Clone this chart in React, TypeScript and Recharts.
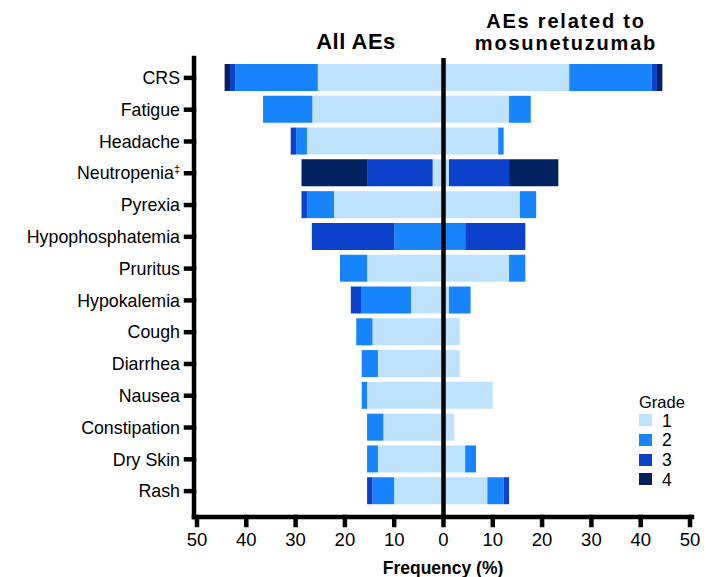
import React from "react";
import { Bar, BarChart, ReferenceLine, XAxis, YAxis } from "recharts";

const FONT = '"Liberation Sans", Arial, sans-serif';

const CATEGORIES = [
  "CRS",
  "Fatigue",
  "Headache",
  "Neutropenia‡",
  "Pyrexia",
  "Hypophosphatemia",
  "Pruritus",
  "Hypokalemia",
  "Cough",
  "Diarrhea",
  "Nausea",
  "Constipation",
  "Dry Skin",
  "Rash",
];

// All AEs, % by grade (drawn to the left)
const ALL_G1 = [25.5, 26.6, 27.7, 2.2, 22.2, 0, 15.5, 6.6, 14.4, 13.3, 15.5, 12.2, 13.3, 10.0];
const ALL_G2 = [16.7, 10.0, 2.2, 0, 5.5, 10.0, 5.5, 10.0, 3.3, 3.3, 1.1, 3.3, 2.2, 4.4];
const ALL_G3 = [1.1, 0, 1.1, 13.3, 1.1, 16.7, 0, 2.2, 0, 0, 0, 0, 0, 1.1];
const ALL_G4 = [1.1, 0, 0, 13.3, 0, 0, 0, 0, 0, 0, 0, 0, 0, 0];

// AEs related to mosunetuzumab, % by grade (drawn to the right)
const REL_G1 = [25.5, 13.3, 11.1, 1.1, 15.5, 0, 13.3, 1.1, 3.3, 3.3, 10.0, 2.2, 4.4, 8.9];
const REL_G2 = [16.7, 4.4, 1.1, 0, 3.3, 4.4, 3.3, 4.4, 0, 0, 0, 0, 2.2, 3.3];
const REL_G3 = [1.1, 0, 0, 12.2, 0, 12.2, 0, 0, 0, 0, 0, 0, 0, 1.1];
const REL_G4 = [1.1, 0, 0, 10.0, 0, 0, 0, 0, 0, 0, 0, 0, 0, 0];

const X_TICKS = [-50, -40, -30, -20, -10, 0, 10, 20, 30, 40, 50];
const GRADES = ["1", "2", "3", "4"];
const GRADE_COLORS = ["#bee2fc", "#1784fb", "#0c41cc", "#01215f"];

const data = CATEGORIES.map((name, i) => ({
  name,
  l1: -ALL_G1[i],
  l2: -ALL_G2[i],
  l3: -ALL_G3[i],
  l4: -ALL_G4[i],
  r1: REL_G1[i],
  r2: REL_G2[i],
  r3: REL_G3[i],
  r4: REL_G4[i],
}));

function CategoryTick({ x, y, payload }: any) {
  const label: string = payload.value;
  const hasDagger = label.endsWith("‡");
  const base = hasDagger ? label.slice(0, -1) : label;
  return (
    <text x={x} y={y} dy="0.35em" textAnchor="end" fontSize={17.8} fontFamily={FONT} fill="#000">
      {base}
      {hasDagger && (
        <tspan fontSize={11} dy={-6}>
          ‡
        </tspan>
      )}
    </text>
  );
}

const axisStroke = { stroke: "#000", strokeWidth: 4.5, strokeLinecap: "square" as const };

const titleStyle: React.CSSProperties = {
  position: "absolute",
  left: 446,
  width: 240,
  textAlign: "center",
  fontSize: 20,
  lineHeight: "20px",
  fontWeight: "bold",
  letterSpacing: 1.8,
};

export default function App() {
  return (
    <div style={{ position: "absolute", left: 0, top: 0, width: 706, height: 577, fontFamily: FONT, color: "#000" }}>
      <BarChart
        width={706}
        height={577}
        data={data}
        layout="vertical"
        stackOffset="sign"
        margin={{ top: 58, right: 14, bottom: 0, left: 0 }}
      >
        <XAxis
          type="number"
          domain={[-50, 50]}
          ticks={X_TICKS}
          tickFormatter={(v: number) => String(Math.abs(v))}
          padding={{ left: 3, right: 2 }}
          axisLine={axisStroke}
          tickLine={axisStroke}
          tickSize={8}
          tickMargin={8}
          tick={{ fill: "#000", fontSize: 18.5, fontFamily: FONT }}
          height={60}
          label={{
            value: "Frequency (%)",
            position: "insideBottom",
            offset: 3,
            fill: "#000",
            fontSize: 17.5,
            fontWeight: "bold",
            fontFamily: FONT,
          }}
        />
        <YAxis
          type="category"
          dataKey="name"
          width={194}
          interval={0}
          padding={{ top: 4, bottom: 10 }}
          axisLine={axisStroke}
          tickLine={axisStroke}
          tickSize={8}
          tickMargin={6}
          tick={<CategoryTick />}
        />
        {["l1", "l2", "l3", "l4"].map((k, i) => (
          <Bar key={k} dataKey={k} stackId="s" fill={GRADE_COLORS[i]} barSize={27} isAnimationActive={false} />
        ))}
        {["r1", "r2", "r3", "r4"].map((k, i) => (
          <Bar key={k} dataKey={k} stackId="s" fill={GRADE_COLORS[i]} barSize={27} isAnimationActive={false} />
        ))}
        <ReferenceLine x={0} stroke="#000" strokeWidth={4.5} />
      </BarChart>

      <div
        style={{
          position: "absolute",
          left: 256,
          top: 30.7,
          width: 200,
          textAlign: "center",
          fontSize: 22,
          lineHeight: "22px",
          fontWeight: "bold",
          letterSpacing: 0.5,
        }}
      >
        All AEs
      </div>
      <div style={{ ...titleStyle, top: 10.9 }}>AEs related to</div>
      <div style={{ ...titleStyle, top: 33.4 }}>mosunetuzumab</div>

      <div style={{ position: "absolute", left: 639, top: 393.5, fontSize: 16.5, lineHeight: "16.5px" }}>Grade</div>
      {GRADES.map((g, i) => (
        <React.Fragment key={g}>
          <div
            style={{
              position: "absolute",
              left: 639,
              top: 414.3 + i * 19.7,
              width: 13,
              height: 12,
              background: GRADE_COLORS[i],
            }}
          />
          <div
            style={{
              position: "absolute",
              left: 662,
              top: 412.7 + i * 19.7,
              fontSize: 17.5,
              lineHeight: "17.5px",
            }}
          >
            {g}
          </div>
        </React.Fragment>
      ))}
    </div>
  );
}
